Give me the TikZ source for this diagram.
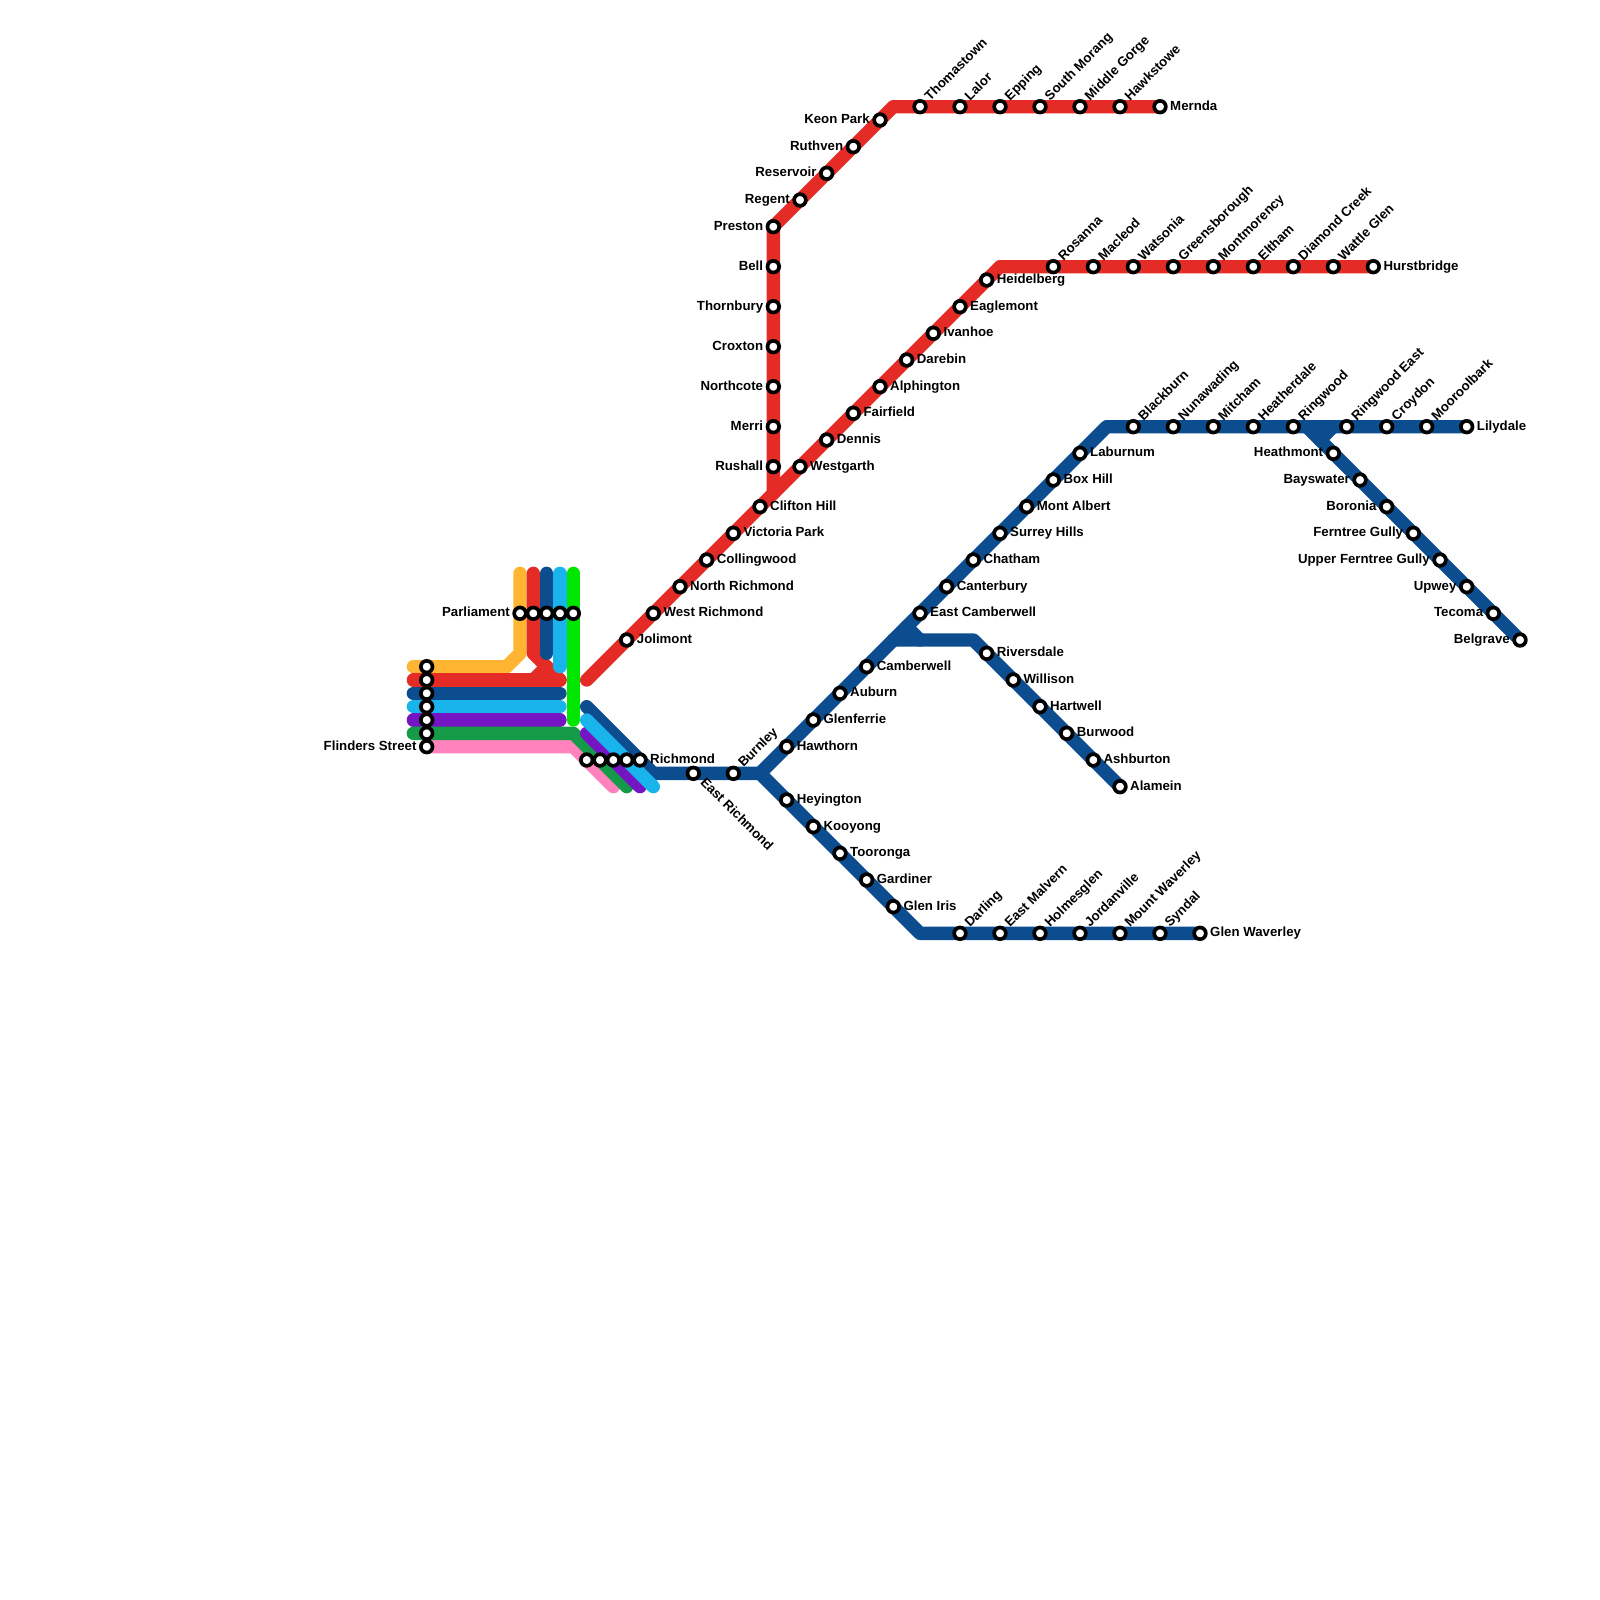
\documentclass[tikz,border=0pt]{standalone}
\usepackage{fontspec}
\setmainfont{Liberation Sans}
\usetikzlibrary{backgrounds}
\definecolor{cred}{HTML}{E52B25}
\definecolor{cblue}{HTML}{0B4D8E}
\definecolor{cyellow}{HTML}{FFB531}
\definecolor{csky}{HTML}{19B4EC}
\definecolor{clime}{HTML}{00E600}
\definecolor{cpurple}{HTML}{7514C2}
\definecolor{cgreen}{HTML}{159A47}
\definecolor{cpink}{HTML}{FF82BD}
\tikzset{
  stn/.style={circle,draw=black,fill=white,line width=0.11cm,minimum size=0.35cm,inner sep=0pt},
  lab/.style={inner sep=0pt,font=\fontsize{11.3}{13}\selectfont\bfseries,text=black},
  lr/.style={lab,anchor=base west,xshift=0.3cm,yshift=-0.105cm},
  ll/.style={lab,anchor=base east,xshift=-0.3cm,yshift=-0.105cm},
  lu/.style={lab,anchor=base west,xshift=0.3cm,yshift=0.16cm,rotate=45},
  ld/.style={lab,anchor=base west,xshift=0.19cm,yshift=-0.29cm,rotate=-45},
  ln/.style={line width=0.4cm,line cap=round,line join=round},
}
\newcommand{\st}[5]{\node[stn] (#1) at (#2,#3) {};\node[#4] (l#1) at (#2,#3) {#5};}
\newcommand{\sx}[3]{\node[stn] (#1) at (#2,#3) {};}
\begin{document}
\begin{tikzpicture}[x=0.4cm,y=-0.4cm]
\useasboundingbox (0,0) rectangle (120,120);
% Junctions and free ends
\foreach \n/\x/\y in {
 yt/39/43,yb/39/49,yc/38/50,yl/31/50,
 rt/40/43,rb/40/49,rc/41/50,rd/40/51,rl/31/51,rr/42/51,
 bt/41/43,bb/41/49,bl/31/52,br/42/52,
 st/42/43,sb/42/50,sl/31/53,sr/42/53,
 lt/43/43,lb/43/54,pl/31/54,pr/42/54,
 gl/31/55,gc/43/55,ge/47/59,
 kc/43/56,ke/46/59,
 pa/44/55,pe/48/59,sa/44/54,se/49/59,
 ba/44/53,bc/49/58,bj/57/58,
 rs/44/51,rh/75/20,rv/58/37,rk/67/8,
 ac/83/32,aj/67/48,as/68/47,at/69/48,au/73/48,
 hs/98/32,ht/99/33,hu/100/32,gw/69/70}
 {\coordinate (\n) at (\x,\y);}
% Stations
\sx{p2}{40}{46}\sx{p3}{41}{46}\sx{p4}{42}{46}\sx{p5}{43}{46}
\st{p1}{39}{46}{ll}{Parliament}
\sx{f1}{32}{50}\sx{f2}{32}{51}\sx{f3}{32}{52}\sx{f4}{32}{53}\sx{f5}{32}{54}\sx{f6}{32}{55}
\st{f7}{32}{56}{ll}{Flinders Street}
\sx{m1}{44}{57}\sx{m2}{45}{57}\sx{m3}{46}{57}\sx{m4}{47}{57}
\st{m5}{48}{57}{lr}{Richmond}
\st{er}{52}{58}{ld}{East Richmond}
\st{bu}{55}{58}{lu}{Burnley}
% Hurstbridge line
\st{jo}{47}{48}{lr}{Jolimont}
\st{wr}{49}{46}{lr}{West Richmond}
\st{nr}{51}{44}{lr}{North Richmond}
\st{co}{53}{42}{lr}{Collingwood}
\st{vp}{55}{40}{lr}{Victoria Park}
\st{ch}{57}{38}{lr}{Clifton Hill}
\st{wg}{60}{35}{lr}{Westgarth}
\st{de}{62}{33}{lr}{Dennis}
\st{fa}{64}{31}{lr}{Fairfield}
\st{al}{66}{29}{lr}{Alphington}
\st{da}{68}{27}{lr}{Darebin}
\st{iv}{70}{25}{lr}{Ivanhoe}
\st{ea}{72}{23}{lr}{Eaglemont}
\st{he}{74}{21}{lr}{Heidelberg}
\st{ro}{79}{20}{lu}{Rosanna}
\st{ma}{82}{20}{lu}{Macleod}
\st{wa}{85}{20}{lu}{Watsonia}
\st{gr}{88}{20}{lu}{Greensborough}
\st{mo}{91}{20}{lu}{Montmorency}
\st{el}{94}{20}{lu}{Eltham}
\st{dc}{97}{20}{lu}{Diamond Creek}
\st{wt}{100}{20}{lu}{Wattle Glen}
\st{hb}{103}{20}{lr}{Hurstbridge}
% Mernda line
\st{rh2}{58}{35}{ll}{Rushall}
\st{me}{58}{32}{ll}{Merri}
\st{nc}{58}{29}{ll}{Northcote}
\st{cx}{58}{26}{ll}{Croxton}
\st{tb}{58}{23}{ll}{Thornbury}
\st{be}{58}{20}{ll}{Bell}
\st{pr2}{58}{17}{ll}{Preston}
\st{rg}{60}{15}{ll}{Regent}
\st{rs2}{62}{13}{ll}{Reservoir}
\st{ru}{64}{11}{ll}{Ruthven}
\st{kp}{66}{9}{ll}{Keon Park}
\st{th}{69}{8}{lu}{Thomastown}
\st{la}{72}{8}{lu}{Lalor}
\st{ep}{75}{8}{lu}{Epping}
\st{sm}{78}{8}{lu}{South Morang}
\st{mg}{81}{8}{lu}{Middle Gorge}
\st{hk}{84}{8}{lu}{Hawkstowe}
\st{mn}{87}{8}{lr}{Mernda}
% Lilydale and Belgrave
\st{ha}{59}{56}{lr}{Hawthorn}
\st{gf}{61}{54}{lr}{Glenferrie}
\st{au2}{63}{52}{lr}{Auburn}
\st{cb}{65}{50}{lr}{Camberwell}
\st{ec}{69}{46}{lr}{East Camberwell}
\st{ct}{71}{44}{lr}{Canterbury}
\st{cm}{73}{42}{lr}{Chatham}
\st{sh}{75}{40}{lr}{Surrey Hills}
\st{ma2}{77}{38}{lr}{Mont Albert}
\st{bh}{79}{36}{lr}{Box Hill}
\st{lb2}{81}{34}{lr}{Laburnum}
\st{bk}{85}{32}{lu}{Blackburn}
\st{nu}{88}{32}{lu}{Nunawading}
\st{mi}{91}{32}{lu}{Mitcham}
\st{hd}{94}{32}{lu}{Heatherdale}
\st{rw}{97}{32}{lu}{Ringwood}
\st{re}{101}{32}{lu}{Ringwood East}
\st{cy}{104}{32}{lu}{Croydon}
\st{mb}{107}{32}{lu}{Mooroolbark}
\st{ly}{110}{32}{lr}{Lilydale}
\st{hm}{100}{34}{ll}{Heathmont}
\st{bs}{102}{36}{ll}{Bayswater}
\st{bo}{104}{38}{ll}{Boronia}
\st{fg}{106}{40}{ll}{Ferntree Gully}
\st{uf}{108}{42}{ll}{Upper Ferntree Gully}
\st{up}{110}{44}{ll}{Upwey}
\st{tc}{112}{46}{ll}{Tecoma}
\st{bg}{114}{48}{ll}{Belgrave}
% Alamein
\st{rv2}{74}{49}{lr}{Riversdale}
\st{wl}{76}{51}{lr}{Willison}
\st{hw}{78}{53}{lr}{Hartwell}
\st{bw}{80}{55}{lr}{Burwood}
\st{as2}{82}{57}{lr}{Ashburton}
\st{am}{84}{59}{lr}{Alamein}
% Glen Waverley
\st{hy}{59}{60}{lr}{Heyington}
\st{ko}{61}{62}{lr}{Kooyong}
\st{to}{63}{64}{lr}{Tooronga}
\st{ga}{65}{66}{lr}{Gardiner}
\st{gi}{67}{68}{lr}{Glen Iris}
\st{dl}{72}{70}{lu}{Darling}
\st{em}{75}{70}{lu}{East Malvern}
\st{hg}{78}{70}{lu}{Holmesglen}
\st{jv}{81}{70}{lu}{Jordanville}
\st{mw}{84}{70}{lu}{Mount Waverley}
\st{sy}{87}{70}{lu}{Syndal}
\st{gv}{90}{70}{lr}{Glen Waverley}
\begin{scope}[on background layer]
 % city loop fans
 \draw[ln,cyellow] (yt)--(yb)--(yc)--(yl);
 \draw[ln,cred] (rt)--(rb)--(rc)--(rr);
 \draw[ln,cred] (rc)--(rd);
 \draw[ln,cred] (rl)--(rr);
 \draw[ln,cblue] (bt)--(bb);
 \draw[ln,cblue] (bl)--(br);
 \draw[ln,csky] (st)--(sb);
 \draw[ln,csky] (sl)--(sr);
 \draw[ln,cpurple] (pl)--(pr);
 \draw[ln,cpink] (f7.center)--(kc)--(ke);
 \draw[ln,cgreen] (gl)--(gc)--(ge);
 \draw[ln,clime] (lt)--(lb);
 \draw[ln,cblue] (ba)--(bc)--(bj);
 \draw[ln,cpurple] (pa)--(pe);
 \draw[ln,csky] (sa)--(se);
 % red lines
 \draw[ln,cred] (rs)--(rh)--(hb.center);
 \draw[ln,cred] (rv)--(pr2.center)--(rk)--(mn.center);
 % blue lines
 \draw[ln,cblue] (bj)--(ac)--(ly.center);
 \draw[ln,cblue] (bj)--(gi.center)--(gw)--(gv.center);
 \draw[ln,cblue] (aj)--(au)--(am.center);
 \draw[ln,cblue] (as)--(at);
 \draw[ln,cblue] (hs)--(bg.center);
 \draw[ln,cblue] (ht)--(hu);
\end{scope}
\end{tikzpicture}
\end{document}
